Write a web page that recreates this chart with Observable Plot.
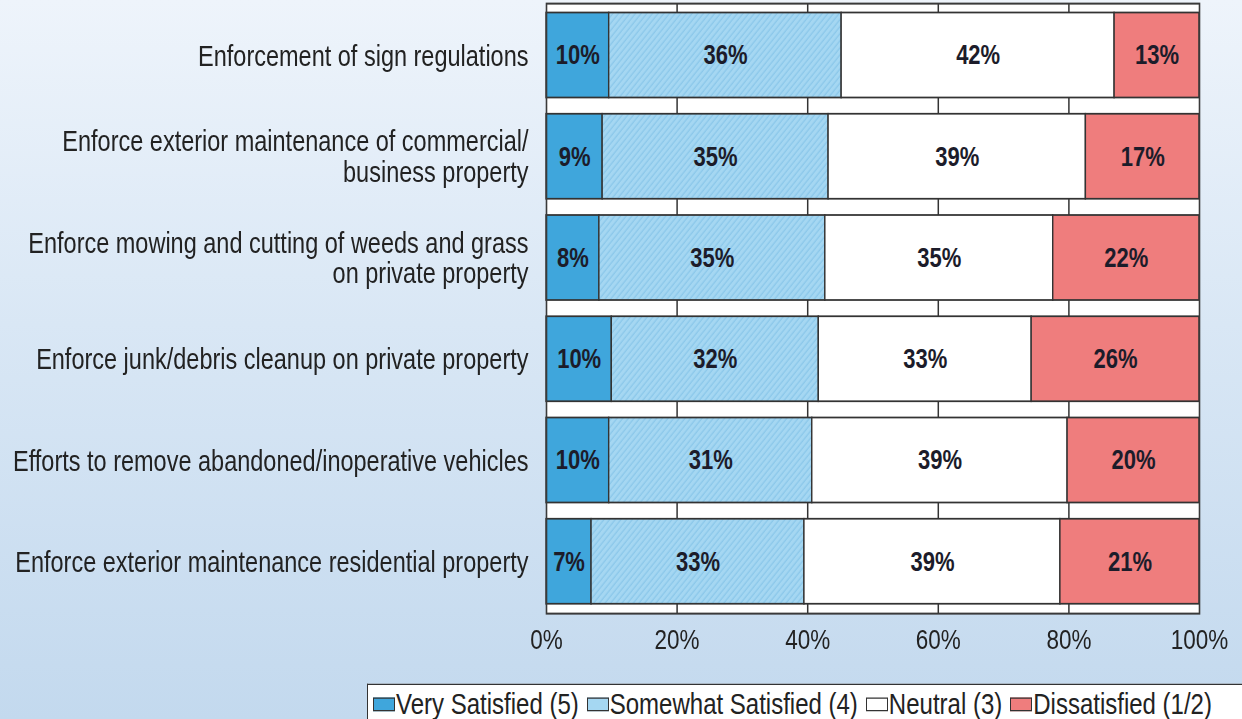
<!DOCTYPE html>
<html>
<head>
<meta charset="utf-8">
<script src="https://cdn.jsdelivr.net/npm/d3@7"></script>
<script src="https://cdn.jsdelivr.net/npm/@observablehq/plot@0.6"></script>
<style>
  html, body { margin: 0; padding: 0; }
  body {
    width: 1242px; height: 719px; overflow: hidden;
    background: linear-gradient(to bottom, #eef4fb 0%, #d9e7f5 45%, #c3d9ee 100%);
    font-family: "Liberation Sans", Arial, sans-serif;
  }
  #wrap {
    position: relative; width: 1242px; height: 576px;
    transform: scaleY(1.25); transform-origin: 0 0;
  }
  #chart svg { display: block; background: transparent; color: #222; }
  #legend {
    position: absolute; left: 367px; top: 547px; width: 900px;
    background: #fff; border-top: 1.5px solid #333; border-left: 1.5px solid #333;
    box-sizing: border-box; padding: 1px 0 0 5px;
    display: flex; align-items: center; height: 30px;
    font-size: 24px; line-height: 24px; color: #222;
  }
  .item { display: flex; align-items: center; margin-right: 8px; white-space: nowrap; }
  .sw { width: 20px; height: 9px; border: 1.5px solid #333; margin-right: 1px; }
</style>
</head>
<body>
<div id="wrap">
  <div id="chart"></div>
  <div id="legend"></div>
</div>
<script>
const categories = [
  "Enforcement of sign regulations",
  "Enforce exterior maintenance of commercial/\nbusiness property",
  "Enforce mowing and cutting of weeds and grass\non private property",
  "Enforce junk/debris cleanup on private property",
  "Efforts to remove abandoned/inoperative vehicles",
  "Enforce exterior maintenance residential property"
];
const seriesNames = ["Very Satisfied (5)", "Somewhat Satisfied (4)", "Neutral (3)", "Dissatisfied (1/2)"];
const verySatisfied     = [9.6, 8.6, 8.1, 10.0, 9.6, 6.9];
const somewhatSatisfied = [35.6, 34.6, 34.6, 31.7, 31.1, 32.6];
const neutral           = [41.8, 39.4, 34.9, 32.6, 39.1, 39.2];
const dissatisfied      = [13.0, 17.4, 22.4, 25.7, 20.2, 21.3];
const xTicks = [0, 20, 40, 60, 80, 100];
const gridTicks = [20, 40, 60, 80];
const seriesColors = ["#3fa6dc", "url(#hatch)", "#ffffff", "#ef7d7d"];
const swatchColors = ["#3fa6dc", "#a5d7f2", "#ffffff", "#ef7d7d"];

const seriesValues = [verySatisfied, somewhatSatisfied, neutral, dissatisfied];
const data = [];
categories.forEach((c, i) => {
  seriesNames.forEach((s, j) => {
    data.push({category: c, series: s, value: seriesValues[j][i]});
  });
});

const font = "'Liberation Sans', Arial, sans-serif";

const svg = Plot.plot({
  width: 1242,
  height: 525,
  marginLeft: 546,
  marginRight: 43,
  marginTop: 2.4,
  marginBottom: 34.6,
  style: {fontFamily: font, background: "transparent", color: "#222"},
  x: {domain: [0, 100], axis: null},
  y: {domain: categories, paddingInner: 0.157, paddingOuter: 0.08, axis: null},
  color: {domain: seriesNames, range: seriesColors},
  marks: [
    Plot.frame({fill: "white", stroke: "none"}),
    Plot.ruleX(gridTicks, {stroke: "#333", strokeWidth: 1.5}),
    Plot.barX(data, Plot.stackX({x: "value", y: "category", fill: "series", stroke: "#333", strokeWidth: 1.4})),
    Plot.textX(data, Plot.stackX({
      x: "value", y: "category",
      text: d => Math.round(d.value) + "%",
      fontSize: 22, fontWeight: "bold", fill: "#1c1c2a"
    })),
    Plot.frame({stroke: "#3a3a3a", strokeWidth: 1.6}),
    Plot.axisY({label: null, tickSize: 0, tickPadding: 18, fontSize: 23.5, fill: "#222", lineHeight: 1.05}),
    Plot.axisX(xTicks, {label: null, tickSize: 0, tickPadding: 12, fontSize: 22.5, fill: "#222", tickFormat: d => d + "%"})
  ]
});

const ns = "http://www.w3.org/2000/svg";
const defs = document.createElementNS(ns, "defs");
defs.innerHTML = `<pattern id="hatch" patternUnits="userSpaceOnUse" width="4" height="4" patternTransform="rotate(45)">
  <rect width="4" height="4" fill="#a5d7f2"></rect>
  <line x1="1" y1="0" x2="1" y2="4" stroke="#8cc8ea" stroke-width="1.2"></line>
</pattern>`;
svg.insertBefore(defs, svg.firstChild);
document.getElementById("chart").appendChild(svg);

const legend = document.getElementById("legend");
seriesNames.forEach((s, i) => {
  const item = document.createElement("div");
  item.className = "item";
  const sw = document.createElement("div");
  sw.className = "sw";
  sw.style.background = swatchColors[i];
  const t = document.createElement("span");
  t.textContent = s;
  item.appendChild(sw);
  item.appendChild(t);
  legend.appendChild(item);
});
</script>
</body>
</html>
